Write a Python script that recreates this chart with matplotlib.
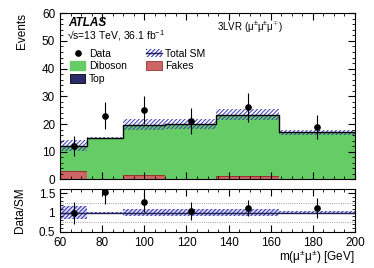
import numpy as np
import matplotlib
matplotlib.use("Agg")
import matplotlib.pyplot as plt
from matplotlib.patches import Patch
from matplotlib.lines import Line2D

plt.rcParams['font.family'] = ['Liberation Sans', 'DejaVu Sans']
plt.rcParams['mathtext.fontset'] = 'custom'
plt.rcParams['mathtext.rm'] = 'Liberation Sans'
plt.rcParams['mathtext.it'] = 'Liberation Sans:italic'
plt.rcParams['hatch.linewidth'] = 0.8

# ---- data ----
edges = [60, 73, 90, 110, 134, 164, 200]
fakes = [3.1, 0.0, 1.5, 0.0, 1.4, 0.0]
diboson = [8.6, 14.7, 17.8, 19.7, 21.4, 16.7]
top = [0.4, 0.3, 0.5, 0.4, 0.5, 0.3]
sm_unc = [2.0, 0.3, 2.0, 1.8, 2.0, 0.8]
data_x = [66.5, 81.5, 100, 122, 149, 182]
data_y = [12, 23, 25, 21, 26, 19]
data_err = [3.5, 4.8, 5.0, 4.6, 5.1, 4.4]

C_DIB = '#66cc66'
C_FAKE = '#cc6666'
C_TOP = '#2b2b6b'
C_HATCH = '#3a3ab0'

W, H = 374, 268
fig = plt.figure(figsize=(W / 100, H / 100), dpi=100)

def fx(px):
    return px / W

def fy(py):
    return 1 - py / H

ax = fig.add_axes([fx(60), fy(179.4), 295 / W, 166.2 / H])
ax2 = fig.add_axes([fx(60), fy(231.7), 295 / W, 42.2 / H])

edges_a = np.array(edges, float)
fk = np.array(fakes)
db = np.array(diboson)
tp = np.array(top)
unc = np.array(sm_unc)
b1 = fk
b2 = fk + db
tot = b2 + tp

ax.stairs(b1, edges_a, baseline=0, fill=True, color=C_FAKE)
ax.stairs(b1, edges_a, baseline=0, color='#993333', lw=0.8)
ax.stairs(b2, edges_a, baseline=b1, fill=True, color=C_DIB)
ax.stairs(tot, edges_a, baseline=b2, fill=True, color=C_TOP)
ax.stairs(tot + unc, edges_a, baseline=tot - unc, fill=False, hatch='////////',
          edgecolor=C_HATCH, lw=0, alpha=0.9)
ax.stairs(tot, edges_a, baseline=None, color='black', lw=1.0)

ax.errorbar(data_x, data_y, yerr=data_err, fmt='o', color='black', ms=3.8,
            elinewidth=0.8, capsize=0, zorder=5)

ax.set_xlim(60, 200)
ax.set_ylim(0, 60)
ax.set_yticks([0, 10, 20, 30, 40, 50, 60])
ax.set_yticks(np.arange(0, 61, 2), minor=True)
ax.set_xticks([60, 80, 100, 120, 140, 160, 180, 200])
ax.set_xticks(np.arange(60, 201, 5), minor=True)
ax.tick_params(axis='both', which='both', direction='in', top=True, right=True,
               labelsize=8.5)
ax.tick_params(which='major', length=5)
ax.tick_params(which='minor', length=2.5)
ax.tick_params(axis='x', labelbottom=False)

# ratio panel
ratio = np.array(data_y) / tot
ratio_err = np.array(data_err) / tot
rel = unc / tot
ax2.stairs(1 + rel, edges_a, baseline=1 - rel, fill=True, color='#dcdcf4', lw=0)
ax2.stairs(1 + rel, edges_a, baseline=1 - rel, fill=False, hatch='////////',
           edgecolor=C_HATCH, lw=0)
ax2.axhline(1, color='#202050', lw=1.0)
for yv in (0.75, 1.25):
    ax2.axhline(yv, color='gray', lw=0.6, ls=':')
ax2.errorbar(data_x, ratio, yerr=ratio_err, fmt='o', color='black', ms=3.8,
             elinewidth=0.8, capsize=0, zorder=5)
ax2.set_xlim(60, 200)
ax2.set_ylim(0.5, 1.6)
ax2.set_yticks([0.5, 1, 1.5])
ax2.set_yticklabels(['0.5', '1', '1.5'])
ax2.set_xticks([60, 80, 100, 120, 140, 160, 180, 200])
ax2.set_xticks(np.arange(60, 201, 5), minor=True)
ax2.set_yticks(np.arange(0.5, 1.61, 0.1), minor=True)
ax2.tick_params(axis='both', which='both', direction='in', top=True, right=True,
                labelsize=8.5)
ax2.tick_params(which='major', length=5)
ax2.tick_params(which='minor', length=2.5)

# labels
fig.text(fx(22), fy(13), 'Events', rotation=90, ha='center', va='top', fontsize=8.5)
fig.text(fx(20), fy(210), 'Data/SM', rotation=90, ha='center', va='center', fontsize=8.5)
fig.text(fx(355), fy(257), 'm(μ$^{\\pm}$μ$^{\\pm}$) [GeV]', ha='right', va='center',
         fontsize=8.5)

fig.text(fx(68), fy(23), 'ATLAS', fontsize=8.5, fontweight='bold', style='italic',
         va='center', ha='left')
fig.text(fx(67), fy(36), '√s=13 TeV, 36.1 fb$^{-1}$', fontsize=7.5, va='center', ha='left')
fig.text(fx(250), fy(27), '3LVR (μ$^{\\pm}$μ$^{\\pm}$μ$^{\\mp}$)', fontsize=7,
         va='center', ha='center')

handles = [
    Line2D([], [], marker='o', color='black', ls='none', ms=3.8),
    Patch(facecolor=C_DIB, edgecolor=C_DIB),
    Patch(facecolor=C_TOP, edgecolor='black', lw=0.6),
    (Patch(facecolor='white', edgecolor=C_HATCH, hatch='////////', lw=0),
     Line2D([], [], color='#202050', lw=1.0)),
    Patch(facecolor=C_FAKE, edgecolor='#993333', lw=0.6),
]
labels = ['Data', 'Diboson', 'Top', 'Total SM', 'Fakes']
fig.legend(handles, labels, ncol=2, loc='upper left',
           bbox_to_anchor=(fx(70), fy(48.5)), frameon=False, fontsize=7.5,
           handlelength=1.45, handleheight=0.95, handletextpad=0.35,
           columnspacing=1.9, labelspacing=0.25, borderaxespad=0, borderpad=0)

fig.savefig('out.png', dpi=100)
